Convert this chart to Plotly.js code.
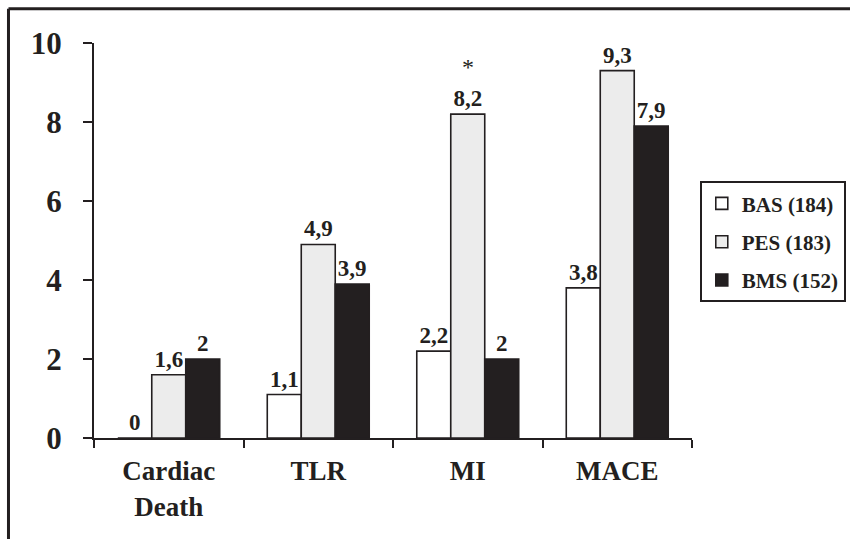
<!DOCTYPE html>
<html>
<head>
<meta charset="utf-8">
<script src="https://cdn.plot.ly/plotly-3.0.1.min.js"></script>
<style>html,body{margin:0;padding:0;background:#fff;}#chart{width:850px;height:539px;}</style>
</head>
<body>
<div id="chart"></div>
<script>
const categories = ['Cardiac<br>Death', 'TLR', 'MI', 'MACE'];
const seriesNames = ['BAS (184)', 'PES (183)', 'BMS (152)'];
const basValues = [0, 1.1, 2.2, 3.8];
const pesValues = [1.6, 4.9, 8.2, 9.3];
const bmsValues = [2, 3.9, 2, 7.9];
const yTickVals = [0, 2, 4, 6, 8, 10];
const starCategory = 'MI';
const starValue = 8.2;

const ink = '#231f20';
const serif = 'Liberation Serif';
const fmt = v => String(v).replace('.', ',');

function bar(name, vals, fill, group) {
  return {
    type: 'bar', name: name, x: categories, y: vals,
    text: vals.map(fmt), textposition: 'outside', cliponaxis: false,
    textfont: {family: serif, size: 23, color: ink, weight: 'bold'},
    marker: {color: fill, line: {color: ink, width: 1.6}},
    legendgroup: group, hoverinfo: 'none'
  };
}

const data = [
  bar(seriesNames[0], basValues, '#ffffff', 'a'),
  bar(seriesNames[1], pesValues, '#ececec', 'b'),
  bar(seriesNames[2], bmsValues, ink, 'c')
];

const layout = {
  width: 850, height: 539,
  margin: {l: 94, r: 158, t: 43, b: 101, autoexpand: false},
  paper_bgcolor: '#fff', plot_bgcolor: '#fff',
  barmode: 'group', bargap: 0.318, bargroupgap: 0,
  font: {family: serif, color: ink, weight: 'bold'},
  showlegend: true,
  legend: {
    x: 1.013, xanchor: 'left', y: 0.65, yanchor: 'top',
    bordercolor: ink, borderwidth: 2, bgcolor: '#fff',
    tracegroupgap: 8, itemwidth: 30,
    font: {family: serif, size: 21, color: ink, weight: 'bold'}
  },
  xaxis: {
    showline: true, linecolor: ink, linewidth: 2,
    ticks: 'outside', tickson: 'boundaries', ticklen: 8, tickwidth: 2, tickcolor: ink,
    tickfont: {family: serif, size: 27, color: ink, weight: 'bold'},
    ticklabelstandoff: 8,
    showgrid: false, zeroline: false, fixedrange: true
  },
  yaxis: {
    range: [0, 10], tickvals: yTickVals,
    showline: true, linecolor: ink, linewidth: 2,
    ticks: 'outside', ticklen: 9, tickwidth: 2, tickcolor: ink,
    tickfont: {family: serif, size: 31, color: ink, weight: 'bold'},
    ticklabelstandoff: 15,
    showgrid: false, zeroline: false, fixedrange: true
  },
  annotations: [{
    x: starCategory, y: starValue, xref: 'x', yref: 'y',
    text: '*', showarrow: false, yanchor: 'bottom', yshift: 32,
    font: {family: serif, size: 24, color: ink, weight: 'normal'}
  }],
  shapes: [
    {type: 'line', xref: 'paper', yref: 'paper', x0: -0.143, x1: 1.3, y0: 1.087, y1: 1.087, line: {color: ink, width: 3}},
    {type: 'line', xref: 'paper', yref: 'paper', x0: -0.143, x1: -0.143, y0: 1.087, y1: -0.26, line: {color: ink, width: 3}}
  ]
};

Plotly.newPlot('chart', data, layout, {displayModeBar: false, staticPlot: true});
</script>
</body>
</html>
